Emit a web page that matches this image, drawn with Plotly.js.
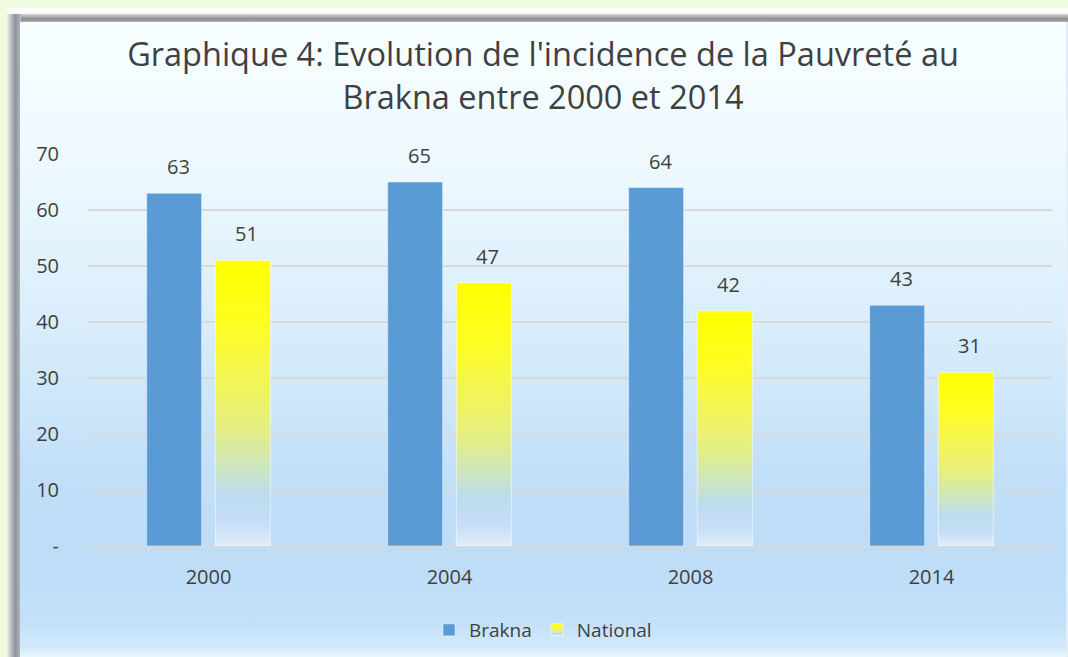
<!DOCTYPE html>
<html>
<head>
<meta charset="utf-8">
<script src="https://cdn.plot.ly/plotly-3.0.1.min.js"></script>
<style>
  html, body { margin:0; padding:0; }
  body { width:1068px; height:657px; overflow:hidden; background:#effcdf; position:relative; font-family:"Open Sans", sans-serif; }
  #topwhite { position:absolute; left:7px; top:8px; width:1061px; height:7px; background:linear-gradient(to bottom,#ffffff,#f4f4f4); }
  #topbar { position:absolute; left:7px; top:14px; width:1061px; height:9px; background:linear-gradient(to bottom,#d6d6d6,#8c8c8c 55%,#bdbdbd); }
  #leftbar { position:absolute; left:7px; top:14px; width:14px; height:643px; background:linear-gradient(to right,#f2f2f2 0%,#c9ccd0 20%,#8e949c 60%,#b6bcc4 100%); }
  #chart { position:absolute; left:20px; top:22px; width:1046px; height:635px;
           background:linear-gradient(to bottom,#f7feff 0%,#eef9fe 22%,#d9edfb 48%,#c2dff8 72%,#bfdcf7 85%,#c5e1f9 95%,#d3eafc 98.5%,#e8f7ff 100%); }
  #rightline { position:absolute; left:1066px; top:22px; width:2px; height:635px; background:#e4eef8; }
</style>
</head>
<body>
<div id="topwhite"></div>
<div id="topbar"></div>
<div id="leftbar"></div>
<div id="chart"></div>
<div id="rightline"></div>
<script>
const years = ['2000', '2004', '2008', '2014'];
const brakna = [63, 65, 64, 43];
const national = [51, 47, 42, 31];
const yTickVals = [0, 10, 20, 30, 40, 50, 60, 70];
const yTickText = ['-', '10', '20', '30', '40', '50', '60', '70'];
const titleText = "Graphique 4: Evolution de l'incidence de la Pauvreté au<br>Brakna entre 2000 et 2014";

const textColor = '#404040';
const fontFam = '"Open Sans", "Noto Sans", sans-serif';

const traces = [
  { type:'bar', name:'Brakna', x:years, y:brakna,
    marker:{ color:'#5b9bd5', line:{ color:'rgba(255,255,255,0.45)', width:1 } },
    hoverinfo:'none' },
  { type:'bar', name:'National', x:years, y:national,
    marker:{ color:'#ffff00', line:{ color:'rgba(255,255,255,0.55)', width:1 } },
    hoverinfo:'none' }
];

const annotations = [];
const slotShift = 34;
years.forEach((yr, i) => {
  annotations.push({ x:i, y:brakna[i], xref:'x', yref:'y', text:String(brakna[i]), showarrow:false,
    xshift:-slotShift + 4, yshift:11, yanchor:'bottom', font:{ size:20, color:textColor, family:fontFam } });
  annotations.push({ x:i, y:national[i], xref:'x', yref:'y', text:String(national[i]), showarrow:false,
    xshift:slotShift + 4, yshift:11, yanchor:'bottom', font:{ size:20, color:textColor, family:fontFam } });
});

const layout = {
  width:1046, height:635,
  paper_bgcolor:'rgba(0,0,0,0)', plot_bgcolor:'rgba(0,0,0,0)',
  margin:{ l:68, r:14, t:132, b:111 },
  font:{ family:fontFam, color:textColor, size:20 },
  title:{ text:titleText, font:{ size:32.5, color:textColor, family:fontFam },
          x:0.5, xref:'container', y:0.93, yref:'container', yanchor:'middle', automargin:false },
  barmode:'group', bargap:0.43, bargroupgap:0.2,
  xaxis:{ type:'category', range:[-0.5, 3.5], autorange:false, automargin:false, showgrid:false, showline:false, zeroline:false, ticks:'',
          tickfont:{ size:20, color:textColor }, ticklabelstandoff:17 },
  yaxis:{ range:[0, 70], autorange:false, automargin:false, tickvals:yTickVals, ticktext:yTickText, showgrid:true,
          gridcolor:'#d9d9d9', gridwidth:1.5, zeroline:true, zerolinecolor:'#d9d9d9', zerolinewidth:1.5,
          showline:false, ticks:'', tickfont:{ size:20, color:textColor }, ticklabelstandoff:28 },
  legend:{ orientation:'h', x:0.5, xref:'container', xanchor:'center', y:0.0425, yref:'container', yanchor:'middle',
           font:{ size:19, color:textColor }, bgcolor:'rgba(0,0,0,0)', itemclick:false, itemwidth:30 },
  annotations:annotations,
  showlegend:true
};

Plotly.newPlot('chart', traces, layout, { displayModeBar:false, staticPlot:true }).then(function(gd) {
  const svgNS = 'http://www.w3.org/2000/svg';
  const svg = gd.querySelector('svg.main-svg');
  let defs = svg.querySelector('defs');
  if (!defs) { defs = document.createElementNS(svgNS, 'defs'); svg.insertBefore(defs, svg.firstChild); }
  const grad = document.createElementNS(svgNS, 'linearGradient');
  grad.setAttribute('id', 'yellowGrad');
  grad.setAttribute('x1', '0'); grad.setAttribute('y1', '0');
  grad.setAttribute('x2', '0'); grad.setAttribute('y2', '1');
  const stops = [
    [0, '#ffff00'], [0.22, '#fdfd22'], [0.45, '#f0f45e'], [0.6, '#e3ee88'],
    [0.72, '#cde6bd'], [0.82, '#bddbef'], [0.92, '#c6def6'], [1, '#e0ecfb']
  ];
  stops.forEach(s => {
    const st = document.createElementNS(svgNS, 'stop');
    st.setAttribute('offset', s[0]);
    st.setAttribute('stop-color', s[1]);
    grad.appendChild(st);
  });
  defs.appendChild(grad);
  const barTraces = gd.querySelectorAll('.barlayer .trace');
  if (barTraces[1]) {
    barTraces[1].querySelectorAll('path').forEach(p => { p.style.fill = 'url(#yellowGrad)'; });
  }
  const legTraces = gd.querySelectorAll('.legend .traces');
  if (legTraces[1]) {
    legTraces[1].querySelectorAll('.legendpoints path').forEach(p => { p.style.fill = 'url(#yellowGrad)'; });
  }
});
</script>
</body>
</html>
